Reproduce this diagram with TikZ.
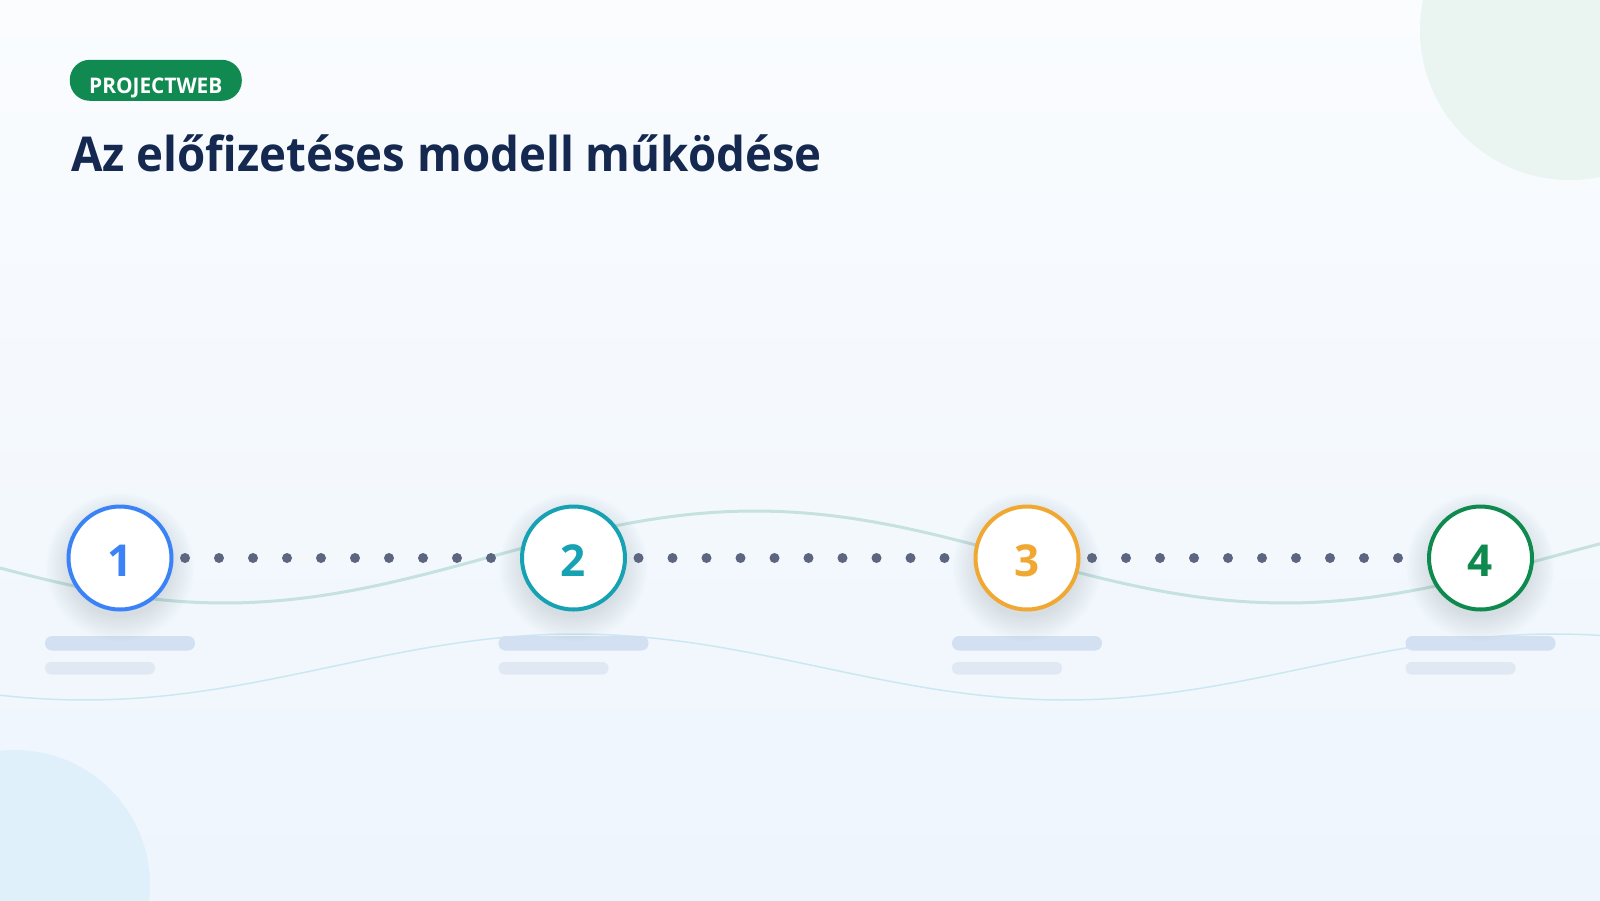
\documentclass[tikz,border=0pt]{standalone}
\usepackage{fontspec}
\setmainfont{Open Sans}
\newfontfamily\badgefont[FakeStretch=0.97]{Open Sans}
\newfontfamily\titlefont[FakeStretch=0.95]{Open Sans}
\usepackage{xcolor}

\definecolor{bgtop}{HTML}{FAFCFE}
\definecolor{bgbottom}{HTML}{EEF5FD}
\definecolor{decogreen}{HTML}{EAF4F1}
\definecolor{decoblue}{HTML}{DFF0FB}
\definecolor{badgegreen}{HTML}{118A52}
\definecolor{titlenavy}{HTML}{142850}
\definecolor{waveteal}{HTML}{C6E2E0}
\definecolor{wavelight}{HTML}{CBE8F1}
\definecolor{dotgray}{HTML}{5C6680}
\definecolor{shadowgray}{HTML}{44506A}
\definecolor{barlong}{HTML}{D2E0F2}
\definecolor{barshort}{HTML}{DFE8F3}
\definecolor{stepblue}{HTML}{3B82F6}
\definecolor{stepteal}{HTML}{17A2B3}
\definecolor{steporange}{HTML}{F0A832}
\definecolor{stepgreen}{HTML}{0F8A4E}

\begin{document}
\begin{tikzpicture}[x=1pt,y=-1pt,
  stepnode/.style={circle,draw=#1,text=#1,fill=white,line width=4pt,minimum size=103pt,inner sep=0pt,
    text height=37.4pt,text depth=0pt,font=\fontsize{44}{44}\selectfont\bfseries},
  dotline/.style={draw=dotgray,line width=10pt,line cap=round,dash pattern=on 0pt off 34pt,shorten <=65pt,shorten >=75pt},
  badge/.style={fill=badgegreen,text=white,rounded corners=20pt,minimum width=172pt,minimum height=41pt,inner sep=0pt,
    text height=26pt,text depth=0pt,font=\fontsize{21.5}{21.5}\badgefont\bfseries}]
\useasboundingbox (0,0) rectangle (1600,900);
\clip (0,0) rectangle (1600,900);

% Background and corner discs
\shade[top color=bgtop,bottom color=bgbottom] (0,0) rectangle (1600,900);
\fill[decogreen] (1570,30) circle (150pt);
\fill[decoblue] (15,885) circle (135pt);

% Waves behind the timeline
\draw[waveteal,line width=3pt,domain=0:1600,samples=120] plot (\x,{557+46*cos((\x-224.5)*0.3393)});
\draw[wavelight,line width=1.5pt,domain=0:1600,samples=120] plot (\x,{667+33*cos((\x-1065)*0.36735)});

% Header
\node[badge] (tag) at (155.8,80.3) {PROJECTWEB};
\node[anchor=base west,text=titlenavy,inner sep=0pt,font=\fontsize{48}{48}\titlefont\bfseries] (title) at (71,171.7) {Az előfizetéses modell működése};

% Placeholder bars under each step
\foreach \i in {1,...,4} {
    \pgfmathsetmacro\bx{120+453.5*(\i-1)}
    \fill[barlong,rounded corners=7pt] (\bx-75,636) rectangle (\bx+75,650.5);
    \fill[barshort,rounded corners=6pt] (\bx-75,662) rectangle (\bx+35,674.5);
}

% Steps with a soft shadow
\foreach \i/\col in {1/stepblue,2/stepteal,3/steporange,4/stepgreen} {
    \pgfmathsetmacro\cx{120+453.5*(\i-1)}
    \foreach \r in {50,52,...,74} {
        \fill[shadowgray,opacity=0.011] (\cx,567) circle (\r pt);
    }
    \node[stepnode=\col] (c\i) at (\cx,558) {\i};
}

% Dotted links
\foreach \a/\b in {1/2,2/3,3/4} {
    \draw[dotline] (c\a.center) -- (c\b.center);
}
\end{tikzpicture}
\end{document}
